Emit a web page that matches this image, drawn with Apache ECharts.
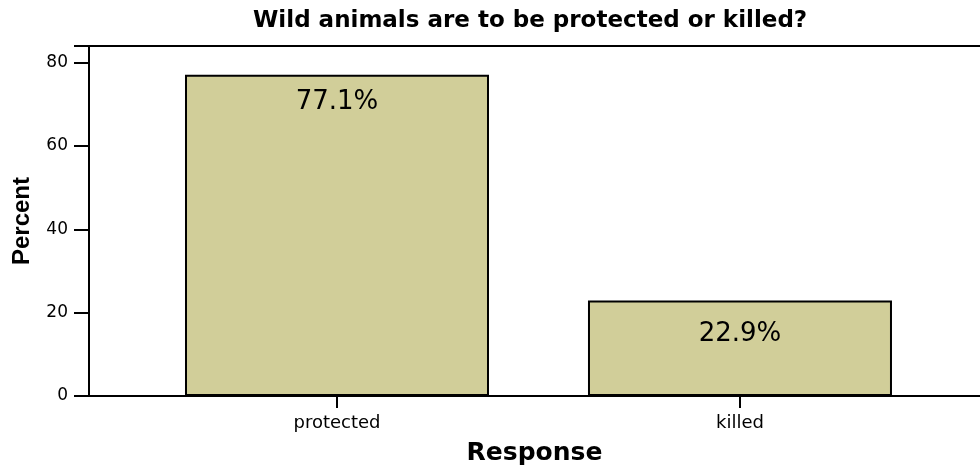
<!DOCTYPE html>
<html>
<head>
<meta charset="utf-8">
<script src="https://cdn.jsdelivr.net/npm/echarts@6/dist/echarts.min.js"></script>
<style>
  html, body { margin: 0; padding: 0; background: #fff; }
  #chart { width: 980px; height: 466px; }
</style>
</head>
<body>
<div id="chart"></div>
<script>
const categories = ['protected', 'killed'];
const percents = [77.1, 22.9];
const yTicks = [0, 20, 40, 60, 80];

const chart = echarts.init(document.getElementById('chart'));

const barColor = '#d1ce99';
const font = 'DejaVu Sans';

// labels sit a bit lower on the short bar
const labelDist = [14, 21];

// x range: categories sit at 0 and 1, frame runs off the right edge
const xMin = -0.6154;
const xMax = 1.5956;

const option = {
  backgroundColor: '#fff',
  animation: false,
  title: {
    text: 'Wild animals are to be protected or killed?',
    left: 253,
    top: 10,
    padding: 0,
    textStyle: { fontFamily: font, fontWeight: 'bold', fontSize: 23, color: '#000' },
  },
  grid: {
    left: 89,
    right: 0,
    top: 46,
    bottom: 70,
    show: false,
    outerBoundsMode: 'none',
  },
  xAxis: [
    {
      type: 'value',
      min: xMin,
      max: xMax,
      name: 'Response',
      nameLocation: 'middle',
      nameGap: 45,
      nameTextStyle: { fontFamily: font, fontWeight: 'bold', fontSize: 25, color: '#000' },
      splitLine: { show: false },
      axisLine: { show: true, onZero: false, lineStyle: { color: '#000', width: 2 } },
      axisTick: {
        show: true,
        customValues: [0, 1],
        length: 12,
        lineStyle: { color: '#000', width: 2 },
      },
      axisLabel: {
        customValues: [0, 1],
        formatter: (v) => categories[Math.round(v)],
        margin: 18,
        fontFamily: font,
        fontSize: 18,
        color: '#000',
      },
    },
    {
      // top edge of the frame
      type: 'value',
      position: 'top',
      min: xMin,
      max: xMax,
      splitLine: { show: false },
      axisLine: { show: true, onZero: false, lineStyle: { color: '#000', width: 2 } },
      axisTick: { show: false },
      axisLabel: { show: false },
    },
  ],
  yAxis: {
    type: 'value',
    min: 0,
    max: 84,
    interval: 20,
    name: 'Percent',
    nameLocation: 'middle',
    nameGap: 55,
    nameTextStyle: { fontFamily: 'Liberation Sans', fontWeight: 'bold', fontSize: 24, color: '#000' },
    splitLine: { show: false },
    axisLine: { show: true, onZero: false, lineStyle: { color: '#000', width: 2 } },
    axisTick: { show: true, length: 15, lineStyle: { color: '#000', width: 2 } },
    axisLabel: {
      margin: 21,
      fontFamily: font,
      fontSize: 17,
      color: '#000',
      formatter: (v) => (yTicks.includes(v) ? String(v) : ''),
    },
  },
  series: [
    {
      type: 'bar',
      xAxisIndex: 0,
      barWidth: 304,
      data: percents.map((v, i) => ({
        value: [i, v],
        label: { distance: labelDist[i] },
      })),
      itemStyle: { color: barColor, borderColor: '#000', borderWidth: 2 },
      label: {
        show: true,
        position: 'insideTop',
        fontFamily: font,
        fontSize: 26,
        lineHeight: 26,
        color: '#000',
        formatter: (p) => p.value[1].toFixed(1) + '%',
      },
    },
  ],
};

chart.setOption(option);
</script>
</body>
</html>
